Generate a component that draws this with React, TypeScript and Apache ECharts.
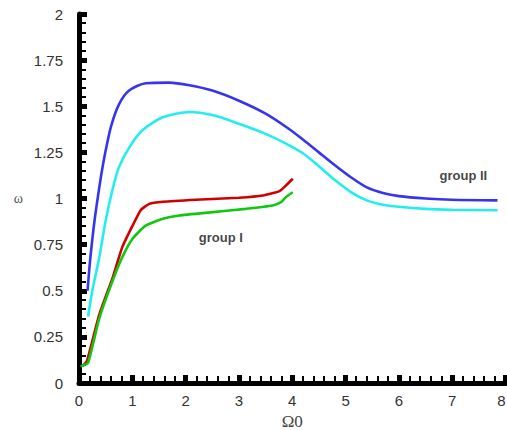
import React, { useEffect, useRef } from "react";
import * as echarts from "echarts";

const blueData: [number, number][] = [
  [0.16, 0.5], [0.2, 0.64], [0.25, 0.78], [0.3, 0.9], [0.36, 1.02], [0.43, 1.15],
  [0.5, 1.26], [0.6, 1.39], [0.75, 1.51], [0.94, 1.585], [1.25, 1.625], [1.69, 1.628],
  [2.07, 1.614], [2.5, 1.585], [3.0, 1.53], [3.5, 1.46], [3.9, 1.385], [4.2, 1.32],
  [4.5, 1.25], [4.8, 1.18], [5.1, 1.115], [5.4, 1.06], [5.7, 1.03], [6.0, 1.013],
  [6.5, 1.0], [7.0, 0.993], [7.85, 0.99],
];
const cyanData: [number, number][] = [
  [0.17, 0.36], [0.25, 0.5], [0.38, 0.68], [0.5, 0.88], [0.63, 1.05], [0.75, 1.17],
  [0.95, 1.28], [1.19, 1.37], [1.57, 1.44], [2.07, 1.469], [2.5, 1.452], [3.0, 1.405],
  [3.5, 1.35], [3.9, 1.295], [4.2, 1.245], [4.5, 1.175], [4.8, 1.1], [5.1, 1.035],
  [5.4, 0.99], [5.7, 0.966], [6.0, 0.955], [6.5, 0.944], [7.0, 0.939], [7.85, 0.936],
];
const redData: [number, number][] = [
  [0.06, 0.09], [0.15, 0.12], [0.38, 0.37], [0.63, 0.57], [0.81, 0.735], [1.0, 0.85],
  [1.16, 0.938], [1.32, 0.971], [1.57, 0.982], [2.19, 0.993], [3.0, 1.004], [3.45, 1.016],
  [3.76, 1.04], [3.88, 1.07], [4.01, 1.107],
];
const greenData: [number, number][] = [
  [0.03, 0.09], [0.17, 0.11], [0.38, 0.35], [0.63, 0.554], [0.81, 0.681], [1.0, 0.781],
  [1.25, 0.853], [1.57, 0.89], [1.88, 0.908], [2.51, 0.926], [3.13, 0.944], [3.63, 0.962],
  [3.79, 0.98], [3.88, 1.007], [4.01, 1.034],
];
const groupLabels: { name: string; value: [number, number] }[] = [
  { name: "group I", value: [2.66, 0.79] },
  { name: "group II", value: [7.21, 1.125] },
];
const xTickLabels = ["0", "1", "2", "3", "4", "5", "6", "7", "8"];
const yTickLabels: Record<string, string> = {
  "0": "0", "0.25": "0.25", "0.5": "0.5", "0.75": "0.75", "1": "1",
  "1.25": "1.25", "1.5": "1.5", "1.75": "1.75", "2": "2",
};

export default function App() {
  const ref = useRef<HTMLDivElement>(null);
  useEffect(() => {
    if (!ref.current) return;
    const chart = echarts.init(ref.current, null, { renderer: "svg" });
    const line = (data: [number, number][], color: string, smooth: number) => ({
      type: "line",
      data,
      smooth,
      symbol: "none",
      lineStyle: { color, width: 2.6 },
      z: 3,
    });
    const tickFont = { fontFamily: "Liberation Sans, Arial, sans-serif", fontSize: 15, color: "#333" };
    const axisCommon = {
      axisLine: { show: true, lineStyle: { color: "#000", width: 5 } },
      axisTick: { show: true, inside: true, length: 8, lineStyle: { color: "#000", width: 5 } },
      minorTick: { show: true, splitNumber: 5, length: 7, lineStyle: { color: "#000", width: 2 } },
      splitLine: { show: false },
    };
    chart.setOption({
      animation: false,
      backgroundColor: "#fff",
      grid: { left: 79, right: 1.5, top: 14, bottom: 47, outerBoundsMode: "none", containLabel: false },
      xAxis: {
        type: "value",
        min: 0,
        max: 8,
        interval: 1,
        name: "Ω0",
        nameLocation: "middle",
        nameGap: 24,
        nameTextStyle: { fontFamily: "Liberation Serif, Times New Roman, serif", fontSize: 17, color: "#444" },
        ...axisCommon,
        axisLabel: {
          ...tickFont,
          margin: 10,
          alignMaxLabel: "right",
          formatter: (v: number) => xTickLabels[Math.round(v)] ?? "",
        },
      },
      yAxis: {
        type: "value",
        min: 0,
        max: 2,
        interval: 0.25,
        name: "ω",
        nameLocation: "middle",
        nameGap: 56,
        nameRotate: 0,
        nameTextStyle: { fontFamily: "Liberation Serif, Times New Roman, serif", fontSize: 14, color: "#555" },
        ...axisCommon,
        axisLabel: {
          ...tickFont,
          margin: 16,
          formatter: (v: number) => yTickLabels[String(v)] ?? "",
        },
      },
      series: [
        line(blueData, "#3535ee", 0.25),
        line(cyanData, "#22eeee", 0.25),
        line(redData, "#d00000", 0.15),
        line(greenData, "#10c810", 0.15),
        {
          type: "scatter",
          data: groupLabels,
          symbolSize: 0,
          label: {
            show: true,
            position: "inside",
            formatter: (p: any) => p.name,
            fontFamily: "Liberation Sans, Arial, sans-serif",
            fontWeight: "bold",
            fontSize: 13,
            color: "#111",
          },
          z: 4,
        },
      ],
    });
    return () => chart.dispose();
  }, []);
  return (
    <div
      ref={ref}
      style={{ position: "absolute", left: 0, top: 0, width: 507, height: 430 }}
    />
  );
}
